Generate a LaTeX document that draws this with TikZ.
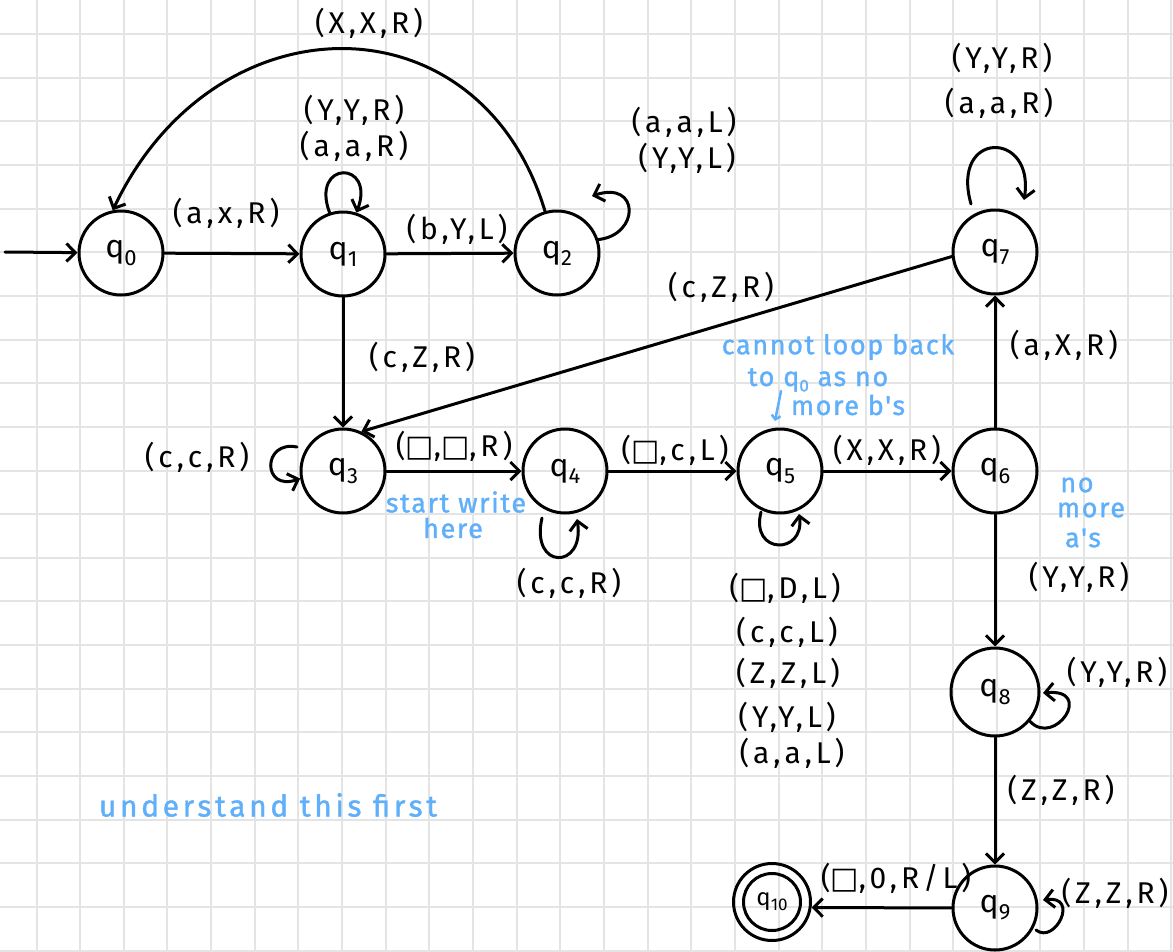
\documentclass[tikz,border=0pt]{standalone}
\usepackage{fontspec}
\setmainfont{Fira Sans}
\newfontfamily\hand[LetterSpace=13]{Fira Sans}
\newfontfamily\bluehand[LetterSpace=6,FakeBold=1.2]{Fira Sans}
\newfontfamily\symf{DejaVu Sans}
\usetikzlibrary{arrows.meta}
\definecolor{gridc}{RGB}{228,228,228}
\definecolor{noteblue}{RGB}{95,175,250}
\newcommand{\blk}{{\symf □}}
\newcommand{\qs}[1]{q\raisebox{-0.22em}{\fontsize{22}{22}\selectfont #1}}
\newcommand{\qsmall}[1]{q\raisebox{-0.2em}{\fontsize{17}{17}\selectfont #1}}
\tikzset{
  gridline/.style={gridc, line width=2pt},
  ink/.style={draw=black, line width=3pt, line cap=round, line join=round},
  arr/.style={ink, -{Straight Barb[length=9pt,width=18pt]}},
  state/.style={ink, circle, minimum size=84pt, inner sep=0pt, font=\fontsize{32}{34}\selectfont},
  lbl/.style={font=\fontsize{30}{32}\hand, inner sep=0pt, align=center},
  note/.style={font=\fontsize{27}{30}\bluehand, text=noteblue, inner sep=0pt},
  notearr/.style={draw=noteblue, line width=2.5pt, line cap=round, -{Straight Barb[length=4pt,width=9pt]}}
}
\begin{document}
\begin{tikzpicture}[x=1pt,y=-1pt]
\useasboundingbox (0,0) rectangle (1173,951);
\fill[white] (0,0) rectangle (1173,951);
% grid paper
\foreach \i in {0,...,26} \draw[gridline] ({36.5+43.65*\i},0) -- ({36.5+43.65*\i},951);
\foreach \j in {0,...,21} \draw[gridline] (0,{34+43.65*\j}) -- (1173,{34+43.65*\j});

% states
\node[state] (q0) at (121,253) {\qs{0}};
\node[state] (q1) at (343,254) {\qs{1}};
\node[state] (q2) at (557,253) {\qs{2}};
\node[state] (q3) at (343,471) {\qs{3}};
\node[state] (q4) at (565,471) {\qs{4}};
\node[state] (q5) at (780,471) {\qs{5}};
\node[state] (q6) at (995,471) {\qs{6}};
\node[state] (q7) at (995,252) {\qs{7}};
\node[state, minimum size=88pt] (q8) at (995,692) {\qs{8}};
\node[state] (q9) at (995,908) {\qs{9}};
\node[state, minimum size=77pt, font=\fontsize{24}{26}\selectfont] (q10) at (772,902) {\qsmall{10}};
\draw[ink] (q10.center) circle (28.5);

% free ends
\coordinate (s) at (5,252);
\coordinate (l2e) at (592,196);
\coordinate (l7s) at (971,204);
\coordinate (l7e) at (1024,200);
\coordinate (l3s) at (297,447);
\coordinate (l4s) at (542,518);
\coordinate (l4e) at (577,519);
\coordinate (l5s) at (761,512);
\coordinate (l5e) at (799,514);
\coordinate (l8e) at (1043,693);
\coordinate (l9s) at (1036,930);
\coordinate (l9e) at (1043,900);

% connectors
\draw[arr] (s) -- (q0);
\draw[arr] (q0) -- (q1);
\draw[arr] (q1) -- (q2);
\draw[arr] (q2.106) .. controls (480,-5) and (215,-5) .. (q0.101);
\draw[arr] (q1.108) .. controls (310,160) and (376,160) .. (q1.72);
\draw[arr] (q2.18) .. controls (640,235) and (640,180) .. (l2e);
\draw[arr] (l7s) .. controls (950,130) and (1035,130) .. (l7e);
\draw[arr] (q7.186) -- (q3.65);
\draw[arr] (q1) -- (q3);
\draw[arr] (l3s) .. controls (262,440) and (262,492) .. (q3.190);
\draw[arr] (q3) -- (q4);
\draw[arr] (l4s) .. controls (530,570) and (585,570) .. (l4e);
\draw[arr] (q4) -- (q5);
\draw[arr] (l5s) .. controls (750,555) and (805,555) .. (l5e);
\draw[arr] (q5) -- (q6);
\draw[arr] (q6) -- (q7);
\draw[arr] (q6) -- (q8);
\draw[arr] (q8.-40) .. controls (1055,748) and (1095,688) .. (l8e);
\draw[arr] (q8) -- (q9);
\draw[arr] (l9s) .. controls (1055,945) and (1080,895) .. (l9e);
\draw[arr] (q9) -- (q10.-8);

% transition labels
\node[lbl] (t20) at (369,23) {(X,X,R)};
\node[lbl] (t11a) at (354,110) {(Y,Y,R)};
\node[lbl] (t11b) at (354,146) {(a,a,R)};
\node[lbl] (t01) at (226,213) {(a,x,R)};
\node[lbl] (t12) at (457,229) {(b,Y,L)};
\node[lbl] (t22a) at (684,122) {(a,a,L)};
\node[lbl] (t22b) at (687,158) {(Y,Y,L)};
\node[lbl] (t77a) at (1002,58) {(Y,Y,R)};
\node[lbl] (t77b) at (999,103) {(a,a,R)};
\node[lbl] (t73) at (721,287) {(c,Z,R)};
\node[lbl] (t13) at (422,357) {(c,Z,R)};
\node[lbl] (t33) at (197,457) {(c,c,R)};
\node[lbl] (t34) at (454,446) {(\blk,\blk,R)};
\node[lbl] (t44) at (569,583) {(c,c,R)};
\node[lbl] (t45) at (675,450) {(\blk,c,L)};
\node[lbl] (t56) at (887,450) {(X,X,R)};
\node[lbl] (t67) at (1064,345) {(a,X,R)};
\node[lbl] (t68) at (1079,577) {(Y,Y,R)};
\node[lbl] (t55a) at (785,588) {(\blk,D,L)};
\node[lbl] (t55b) at (787,632) {(c,c,L)};
\node[lbl] (t55c) at (788,673) {(Z,Z,L)};
\node[lbl] (t55d) at (787,717) {(Y,Y,L)};
\node[lbl] (t55e) at (792,753) {(a,a,L)};
\node[lbl] (t88) at (1117,672) {(Y,Y,R)};
\node[lbl] (t89) at (1061,790) {(Z,Z,R)};
\node[lbl] (t99) at (1115,893) {(Z,Z,R)};
\node[lbl] (t910) at (896,878) {(\blk,0,R/L)};

% blue notes
\node[note] (n1) at (456,502) {start write};
\node[note] (n2) at (453,528) {here};
\node[note] (n3) at (838,347) {cannot loop back};
\node[note] (n4) at (818,380) {to \qsmall{0} as no};
\node[note] (n5) at (848,405) {more b's};
\node[note] (n6) at (1077,485) {no};
\node[note] (n7) at (1091,510) {more};
\node[note] (n8) at (1083,538) {a's};
\node[note, font=\fontsize{30}{32}\bluehand\addfontfeature{LetterSpace=12}] (n9) at (268,805) {understand this first};
\coordinate (na1) at (781,391);
\coordinate (na2) at (775,421);
\draw[notearr] (na1) -- (na2);
\end{tikzpicture}
\end{document}
